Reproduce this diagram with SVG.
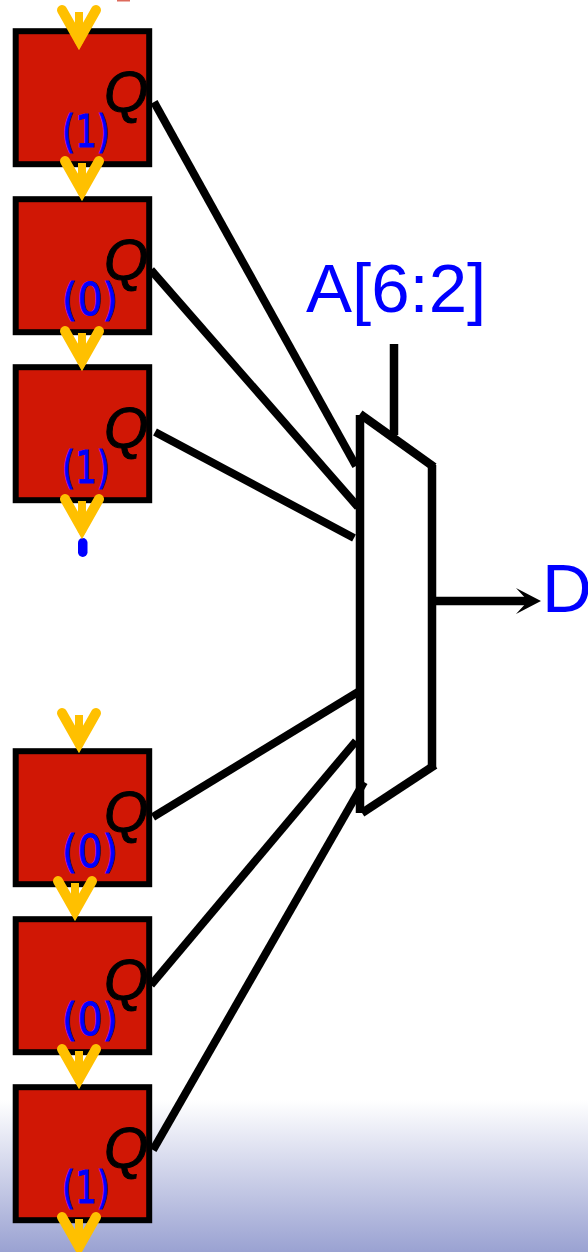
<svg xmlns="http://www.w3.org/2000/svg" xmlns:xlink="http://www.w3.org/1999/xlink" width="588" height="1252" viewBox="0 0 588 1252">
<style>
.box{fill:#d01705;stroke:#000;stroke-width:6}
.q{font-family:"Liberation Sans",Arial,sans-serif;font-style:italic;font-size:57px;fill:#000;stroke:#000;stroke-width:1}
.bit{font-family:"DejaVu Sans",sans-serif;font-size:44px;fill:#0000ff;stroke:#0000ff;stroke-width:.8}
.big{font-family:"Liberation Sans",Arial,sans-serif;font-size:69px;fill:#0000ff}
.wire{stroke:#000;stroke-width:8;fill:none}
.mux{stroke:#000;stroke-width:8.5;fill:none}
</style>
<defs>
<linearGradient id="bg" x1="0" y1="1100" x2="0" y2="1252" gradientUnits="userSpaceOnUse">
<stop offset="0" stop-color="#ffffff"/><stop offset="1" stop-color="#9aa2d2"/>
</linearGradient>
<g id="arrow">
<rect x="-4" y="-37" width="8" height="28" fill="#ffc000"/>
<path d="M-17-39L0-9L17-39" fill="none" stroke="#ffc000" stroke-width="10" stroke-linecap="round"/>
<polygon points="-4.3,-7 0,0 4.3,-7 0,-14" fill="#ffc000"/>
</g>
</defs>
<rect width="588" height="1252" fill="#fff"/>
<rect y="1100" width="588" height="152" fill="url(#bg)"/>
<rect x="117" y="0" width="13" height="1.5" fill="#dd6a5c"/>
<g id="connectors">
<path class="wire" d="M154 102L356 466"/>
<path class="wire" d="M151 270L358 507"/>
<path class="wire" d="M155 432L354 538"/>
<path class="wire" d="M153 817L358 692"/>
<path class="wire" d="M151 985L356 741"/>
<path class="mux" d="M394 344V435"/>
<path class="mux" d="M436 601H528"/>
<polygon points="541,601 516,588 528,601 516,614" fill="#000"/>
</g>
<g id="mux">
<polygon points="360,415 432,465 432,767 360,813" fill="#fff"/>
<path class="mux" d="M360 415V813"/>
<path class="mux" d="M360 414L434 467"/>
<path class="mux" d="M432 465V767"/>
<path class="mux" d="M435 765L362 813"/>
</g>
<path class="wire" d="M153 1150L364 782"/>
<g id="reg1"><rect class="box" x="15.7" y="31.2" width="133.5" height="133"/><text class="q" x="104" y="112">Q</text><text class="bit" x="62" y="147" textLength="48" lengthAdjust="spacingAndGlyphs">(1)</text></g>
<g id="reg2"><rect class="box" x="15.7" y="199.2" width="133.5" height="133"/><text class="q" x="104" y="280">Q</text><text class="bit" x="62" y="315" textLength="56" lengthAdjust="spacingAndGlyphs">(0)</text></g>
<g id="reg3"><rect class="box" x="15.7" y="367.2" width="133.5" height="133"/><text class="q" x="104" y="448">Q</text><text class="bit" x="62" y="483" textLength="48" lengthAdjust="spacingAndGlyphs">(1)</text></g>
<g id="reg4"><rect class="box" x="15.7" y="751.2" width="133.5" height="133"/><text class="q" x="104" y="832">Q</text><text class="bit" x="62" y="867" textLength="56" lengthAdjust="spacingAndGlyphs">(0)</text></g>
<g id="reg5"><rect class="box" x="15.7" y="919.2" width="133.5" height="133"/><text class="q" x="104" y="1000">Q</text><text class="bit" x="62" y="1035" textLength="56" lengthAdjust="spacingAndGlyphs">(0)</text></g>
<g id="reg6"><rect class="box" x="15.7" y="1087.2" width="133.5" height="133"/><text class="q" x="104" y="1168">Q</text><text class="bit" x="62" y="1203" textLength="48" lengthAdjust="spacingAndGlyphs">(1)</text></g>
<rect x="78" y="538" width="9.5" height="19" rx="4.7" fill="#0000ff"/>
<g id="arrows">
<use xlink:href="#arrow" href="#arrow" x="79" y="49"/>
<use xlink:href="#arrow" href="#arrow" x="82" y="200"/>
<use xlink:href="#arrow" href="#arrow" x="82" y="370"/>
<use xlink:href="#arrow" href="#arrow" x="82" y="538"/>
<use xlink:href="#arrow" href="#arrow" x="79" y="752"/>
<use xlink:href="#arrow" href="#arrow" x="75" y="920"/>
<use xlink:href="#arrow" href="#arrow" x="79" y="1088"/>
<use xlink:href="#arrow" href="#arrow" x="79" y="1256"/>
</g>
<g id="labels">
<text class="big" x="306" y="312">A[6:2]</text>
<text class="big" x="542" y="612">D</text>
</g>
</svg>
